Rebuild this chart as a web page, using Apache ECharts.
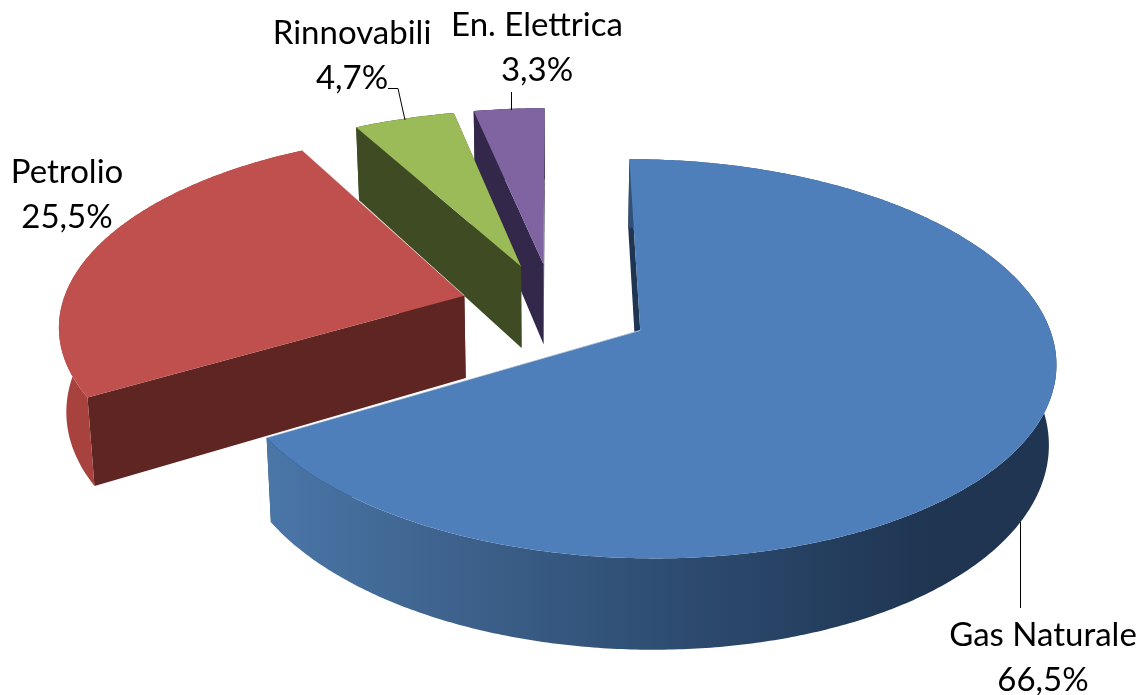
<!DOCTYPE html>
<html>
<head>
<meta charset="utf-8">
<style>
  html, body { margin: 0; padding: 0; background: #fff; }
  #chart { width: 1139px; height: 695px; }
</style>
</head>
<body>
<div id="chart"></div>
<script src="https://cdn.jsdelivr.net/npm/echarts@6/dist/echarts.min.js"></script>
<script>
  const categories = ['Gas Naturale', 'Petrolio', 'Rinnovabili', 'En. Elettrica']
  const shares = [66.5, 25.5, 4.7, 3.3]

  const topColors = ['#4f7fba', '#c0504d', '#9bbb59', '#8064a2']
  const sideColors = ['#1f3552', '#5e2522', '#3f4c23', '#33284a']
  const rimColors = ['#4a76a8', '#a8423f', '#3f4c23', '#33284a']
  const drawOrder = [3, 2, 1, 0]   // z level of each slice, gas sits on top
  const explosions = [0.245, 0.23, 0.235, 0.235]
  const depths = [77, 83, 84, 83]

  const labelCentres = [[1043, 658], [67, 195], [352, 56], [537, 48]]
  const leaderLines = [
    [[1020.5, 522], [1020.5, 608]],
    null,
    [[388, 88.5], [398, 88.5], [405, 120]],
    [[511.5, 92], [511.5, 110]]
  ]

  // fake 3d: flat circle in ground plane, then perspective
  const cx = 553, cy = 307, rx = 403, ry = 189, persp = 0.14
  const shrink = 0.985

  function project(u, v) {
    let w = 1 - persp * v
    return [cx + rx * u / w, cy + ry * v / w]
  }

  function lower(u, v, depth) {
    let w = 1 - persp * v
    let p = project(u, v)
    return [cx + (p[0] - cx) * shrink, p[1] + depth / w]
  }

  function renderSlice(params, api) {
    let i = params.dataIndex
    let total = shares.reduce((a, b) => a + b, 0)
    let before = shares.slice(0, i).reduce((a, b) => a + b, 0)
    let a0 = before / total * Math.PI * 2
    let a1 = (before + api.value(0)) / total * Math.PI * 2
    let mid = (a0 + a1) / 2
    let u0 = Math.sin(mid) * explosions[i]
    let v0 = -Math.cos(mid) * explosions[i]

    let arc = []
    let steps = Math.ceil((a1 - a0) / 0.01)
    for (let s = 0; s <= steps; s++) {
      let a = a0 + (a1 - a0) * s / steps
      arc.push([u0 + Math.sin(a), v0 - Math.cos(a)])
    }
    let first = arc[0]
    let last = arc[arc.length - 1]
    let z = drawOrder[i] * 10
    let d = depths[i]

    let rimFill = i === 0
      ? new echarts.graphic.LinearGradient(268, 0, 930, 0, [
          { offset: 0, color: '#4a76a8' },
          { offset: 0.25, color: '#3f648f' },
          { offset: 0.6, color: '#2e4d72' },
          { offset: 1, color: '#1f3552' }
        ], true)
      : rimColors[i]

    let poly = (points, fill, zz) => ({
      type: 'polygon',
      shape: { points: points },
      style: { fill: fill },
      z2: z + zz,
      silent: true
    })

    let rim = arc.map(p => project(p[0], p[1]))
      .concat(arc.slice().reverse().map(p => lower(p[0], p[1], d)))
    let wall = (p) => [project(u0, v0), project(p[0], p[1]), lower(p[0], p[1], d), lower(u0, v0, d)]

    let children = [
      poly(wall(first), sideColors[i], 1),
      poly(wall(last), sideColors[i], 1),
      poly(rim, rimFill, 2),
      poly([project(u0, v0)].concat(arc.map(p => project(p[0], p[1]))), topColors[i], 3)
    ]

    // thin light edge where the slice lies over the one behind it
    if (i < 2) {
      children.push({
        type: 'polyline',
        shape: { points: [project(u0, v0), project(last[0], last[1])] },
        style: { stroke: '#fff', opacity: 0.6, lineWidth: 1, fill: null },
        z2: z + 4,
        silent: true
      })
    }

    if (leaderLines[i]) {
      children.push({
        type: 'polyline',
        shape: { points: leaderLines[i] },
        style: { stroke: '#000', lineWidth: 1, fill: null },
        z2: 90,
        silent: true
      })
    }
    children.push({
      type: 'text',
      style: {
        text: categories[i] + '\n' + api.value(0).toFixed(1).replace('.', ',') + '%',
        x: labelCentres[i][0],
        y: labelCentres[i][1],
        fontFamily: 'Lato',
        fontSize: 33,
        lineHeight: 45,
        align: 'center',
        verticalAlign: 'middle',
        fill: '#000'
      },
      z2: 100
    })
    return { type: 'group', children: children }
  }

  let myChart = echarts.init(document.getElementById('chart'), null, { renderer: 'canvas' })
  myChart.setOption({
    animation: false,
    backgroundColor: '#fff',
    series: [{
      type: 'custom',
      coordinateSystem: 'none',
      renderItem: renderSlice,
      data: shares.map((v, i) => ({ name: categories[i], value: [v] }))
    }]
  })
</script>
</body>
</html>
